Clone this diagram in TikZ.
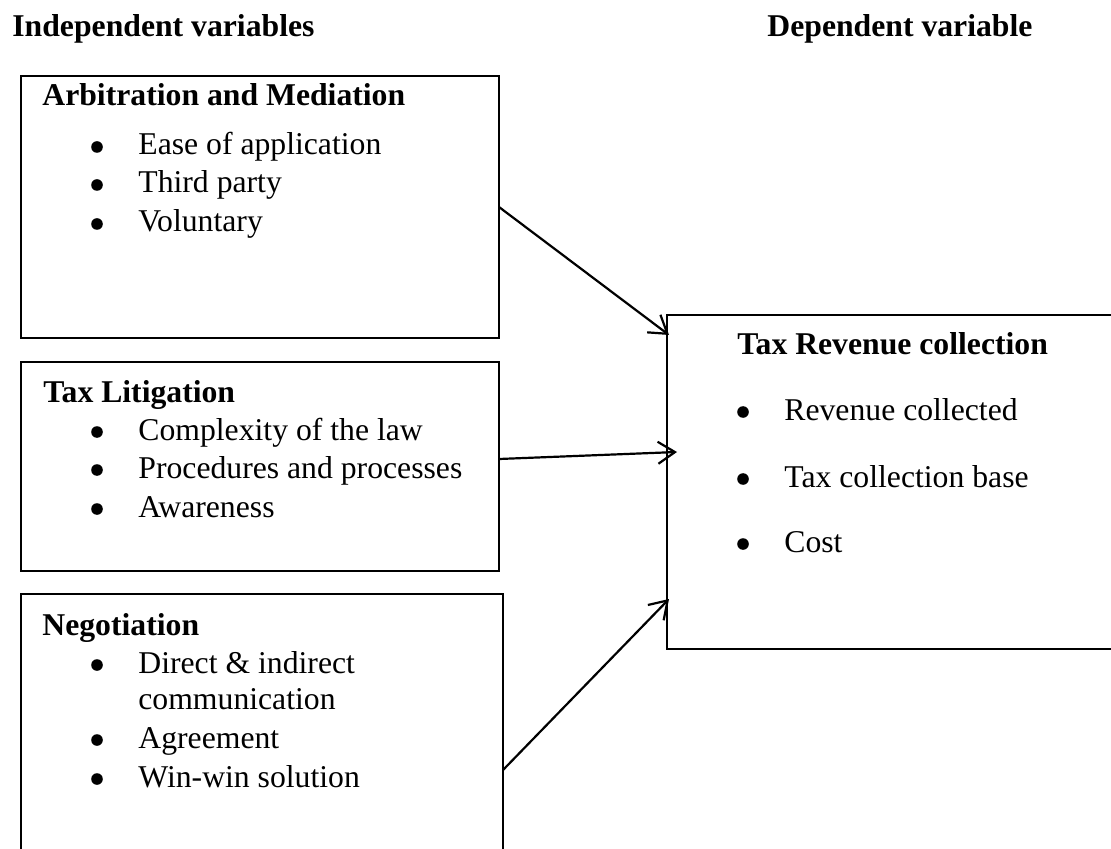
\documentclass[tikz,border=0pt]{standalone}
\usepackage{fontspec}
\setmainfont{Liberation Serif}
\usetikzlibrary{arrows.meta}
\tikzset{
  box/.style={draw, line width=1.1pt, inner sep=0pt, outer sep=0pt, anchor=north west},
  lbl/.style={inner sep=0pt, anchor=base west, font=\fontsize{15.85}{19}\selectfont},
  head/.style={lbl, font=\fontsize{15.85}{19}\selectfont\bfseries},
  bul/.style={circle, fill=black, inner sep=0pt, minimum size=5.8pt},
  arr/.style={line width=1.1pt, -{Straight Barb[length=8.5pt,width=11pt,line width=1.1pt]}}
}
\begin{document}
\begin{tikzpicture}[x=0.5pt,y=-0.5pt]
\clip (0,0) rectangle (1111,849);
\useasboundingbox (0,0) rectangle (1111,849);
\fill[white] (0,0) rectangle (1111,849);
% headers
\node[head] (hi) at (12,37) {Independent variables};
\node[head] (hd) at (767,37) {Dependent variable};
% boxes
\node[box, minimum width=239pt, minimum height=131pt] (b1) at (21,76) {};
\node[box, minimum width=239pt, minimum height=104.5pt] (b2) at (21,362) {};
\node[box, minimum width=241pt, minimum height=140pt] (b3) at (21,594) {};
\node[box, minimum width=240pt, minimum height=167pt] (b4) at (667,315) {};
% box 1 text
\node[head] (t1) at (42,106) {Arbitration and Mediation};
\node[bul] (p11) at (97,147) {}; \node[lbl] (l11) at (138,155) {Ease of application};
\node[bul] (p12) at (97,185) {}; \node[lbl] (l12) at (138,193) {Third party};
\node[bul] (p13) at (97,224) {}; \node[lbl] (l13) at (138,232) {Voluntary};
% box 2 text
\node[head] (t2) at (43,402) {Tax Litigation};
\node[bul] (p21) at (97,432) {}; \node[lbl] (l21) at (138,440) {Complexity of the law};
\node[bul] (p22) at (97,470) {}; \node[lbl] (l22) at (138,478) {Procedures and processes};
\node[bul] (p23) at (97,509) {}; \node[lbl] (l23) at (138,517) {Awareness};
% box 3 text
\node[head] (t3) at (42,635) {Negotiation};
\node[bul] (p31) at (97,665) {}; \node[lbl] (l31) at (138,673) {Direct \& indirect};
\node[lbl] (l31b) at (138,709) {communication};
\node[bul] (p32) at (97,740) {}; \node[lbl] (l32) at (138,748) {Agreement};
\node[bul] (p33) at (97,779) {}; \node[lbl] (l33) at (138,787) {Win-win solution};
% box 4 text
\node[head] (t4) at (737,355) {Tax Revenue collection};
\node[bul] (p41) at (743,412) {}; \node[lbl] (l41) at (784,420) {Revenue collected};
\node[bul] (p42) at (743,479) {}; \node[lbl] (l42) at (784,487) {Tax collection base};
\node[bul] (p43) at (743,544) {}; \node[lbl] (l43) at (784,552) {Cost};
% connectors
\coordinate (e1) at (669,335);
\coordinate (e2) at (677,452);
\coordinate (e3) at (669,599);
\draw[arr] (b1.east |- 0,207) -- (e1);
\draw[arr] (b2.east |- 0,459) -- (e2);
\draw[arr] (b3.east |- 0,770) -- (e3);
\end{tikzpicture}
\end{document}
